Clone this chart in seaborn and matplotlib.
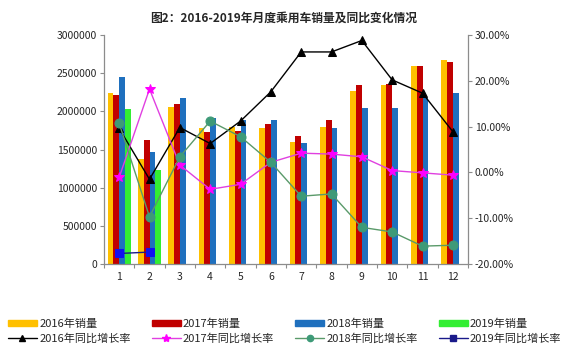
import numpy as np
import pandas as pd
import matplotlib
matplotlib.use("Agg")
import matplotlib.pyplot as plt
from matplotlib.patches import Patch
from matplotlib.lines import Line2D
from matplotlib.ticker import FuncFormatter, FixedLocator
import seaborn as sns

# Monthly passenger-car sales (units)
months = [str(m) for m in range(1, 13)]
sales_2016 = [2237000, 1375000, 2055000, 1780000, 1790000, 1780000, 1600000, 1790000, 2270000, 2350000, 2600000, 2675000]
sales_2017 = [2220000, 1620000, 2100000, 1725000, 1740000, 1830000, 1680000, 1880000, 2345000, 2360000, 2590000, 2650000]
sales_2018 = [2455000, 1470000, 2170000, 1910000, 1890000, 1880000, 1590000, 1780000, 2050000, 2040000, 2180000, 2240000]
sales_2019 = [2030000, 1230000] + [np.nan] * 10

# Year-on-year growth (fraction)
yoy_2016 = [0.096, -0.015, 0.098, 0.063, 0.112, 0.176, 0.263, 0.263, 0.288, 0.202, 0.173, 0.089]
yoy_2017 = [-0.011, 0.182, 0.016, -0.037, -0.026, 0.022, 0.042, 0.040, 0.034, 0.004, -0.001, -0.006]
yoy_2018 = [0.107, -0.097, 0.034, 0.112, 0.078, 0.022, -0.052, -0.047, -0.120, -0.130, -0.161, -0.159]
yoy_2019 = [-0.177, -0.174]

years = ["2016", "2017", "2018", "2019"]
bar_colors = ["#FFC000", "#C00000", "#1F70BE", "#33EE33"]

sns.set_style("white")
plt.rcParams["font.family"] = ["Noto Sans CJK SC", "DejaVu Sans"]
plt.rcParams["axes.unicode_minus"] = False

df = pd.DataFrame({
    "month": months * 4,
    "year": sum([[y] * 12 for y in years], []),
    "sales": sales_2016 + sales_2017 + sales_2018 + sales_2019,
})

fig = plt.figure(figsize=(5.68, 3.5), dpi=100)
ax = fig.add_axes([104 / 568, 1 - 264 / 350, 364 / 568, 229 / 350])

sns.barplot(data=df, x="month", y="sales", hue="year", order=months,
            hue_order=years, palette=bar_colors, saturation=1, width=0.76,
            linewidth=0, ax=ax, legend=False)

ax.set_xlim(-0.5, 11.5)
ax.set_ylim(0, 3000000)
ax.set_yticks(np.arange(0, 3000001, 500000))
ax.yaxis.set_major_formatter(FuncFormatter(lambda v, p: f"{int(v)}"))
ax.set_xlabel("")
ax.set_ylabel("")

ax2 = ax.twinx()
x = np.arange(12)
sns.lineplot(x=x, y=yoy_2016, ax=ax2, color="black", linewidth=1.0,
             marker="^", markersize=6, markeredgecolor="black")
sns.lineplot(x=x, y=yoy_2017, ax=ax2, color="#E040E0", linewidth=1.0,
             marker="*", markersize=7, markerfacecolor="#FF00FF", markeredgecolor="#FF00FF")
sns.lineplot(x=x, y=yoy_2018, ax=ax2, color="#5A9A6A", linewidth=1.0,
             marker="o", markersize=6.5, markerfacecolor="#3E9A78", markeredgecolor="#3E9A78")
sns.lineplot(x=x[:2], y=yoy_2019, ax=ax2, color="#1A1A8A", linewidth=1.0,
             marker="s", markersize=6, markerfacecolor="#1010F0", markeredgecolor="#1010F0")
ax2.set_ylim(-0.2, 0.3)
ax2.set_yticks(np.arange(-0.2, 0.3001, 0.1))
ax2.yaxis.set_major_formatter(FuncFormatter(lambda v, p: f"{v * 100:.2f}%"))

for a in (ax, ax2):
    a.spines["top"].set_visible(False)
    for s in ("left", "right", "bottom"):
        a.spines[s].set_color("#8C8C8C")
        a.spines[s].set_linewidth(0.9)
ax.spines["right"].set_visible(False)
ax2.spines["left"].set_visible(False)
ax2.spines["bottom"].set_visible(False)

ax.tick_params(axis="y", direction="out", length=3, width=0.8, color="#8C8C8C",
               labelsize=7.5, pad=2, left=True)
ax2.tick_params(axis="y", direction="out", length=3, width=0.8, color="#8C8C8C",
                labelsize=7.5, pad=2, right=True)
ax.tick_params(axis="x", which="major", length=0, labelsize=7.5, pad=6)
ax.xaxis.set_minor_locator(FixedLocator(np.arange(-0.5, 12, 1.0)))
ax.tick_params(axis="x", which="minor", direction="out", length=3, width=0.8,
               color="#8C8C8C", bottom=True)

fig.text(0.5, 1 - 18 / 350, "图2：2016-2019年月度乘用车销量及同比变化情况",
         ha="center", va="center", fontsize=8.5, fontweight="bold")

handles = [
    Patch(color=bar_colors[0], label="2016年销量"),
    Line2D([], [], color="black", marker="^", markersize=5, lw=1, label="2016年同比增长率"),
    Patch(color=bar_colors[1], label="2017年销量"),
    Line2D([], [], color="#E040E0", marker="*", markersize=6, markerfacecolor="#FF00FF",
           markeredgecolor="#FF00FF", lw=1, label="2017年同比增长率"),
    Patch(color=bar_colors[2], label="2018年销量"),
    Line2D([], [], color="#5A9A6A", marker="o", markersize=4.5, markerfacecolor="#3E9A78",
           markeredgecolor="#3E9A78", lw=1, label="2018年同比增长率"),
    Patch(color=bar_colors[3], label="2019年销量"),
    Line2D([], [], color="#1A1A8A", marker="s", markersize=4.5, markerfacecolor="#1A1A8A",
           markeredgecolor="#1A1A8A", lw=1, label="2019年同比增长率"),
]
fig.legend(handles=handles, ncol=4, loc="center left",
           bbox_to_anchor=(8 / 568, 1 - 331 / 350), frameon=False, fontsize=8,
           handlelength=2.6, handleheight=0.55, handletextpad=0.2,
           columnspacing=1.9, labelspacing=0.35, borderaxespad=0, borderpad=0)

fig.savefig("out.png", dpi=100)
